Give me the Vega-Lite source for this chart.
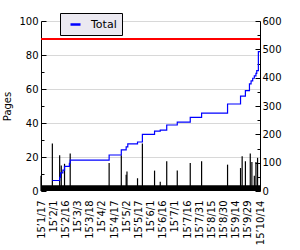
{
  "$schema": "https://vega.github.io/schema/vega-lite/v6.json",
  "width": 219,
  "height": 170,
  "autosize": "none",
  "padding": {"left": 41, "top": 21, "right": 40, "bottom": 59},
  "background": "white",
  "config": {
    "font": "DejaVu Sans",
    "view": {"stroke": null},
    "axis": {"labelFont": "DejaVu Sans", "labelFontSize": 10, "labelColor": "black", "titleFont": "DejaVu Sans", "titleFontSize": 10, "titleFontWeight": "normal", "titleColor": "black", "domainColor": "black", "tickColor": "black"}
  },
  "encoding": {
    "x": {"field": "date", "type": "temporal", "scale": {"domain": [{"year": 2015, "month": 1, "date": 17}, {"year": 2015, "month": 10, "date": 14}]},
      "axis": {"values": [
        {"year": 2015, "month": 1, "date": 17}, {"year": 2015, "month": 2, "date": 1}, {"year": 2015, "month": 2, "date": 16},
        {"year": 2015, "month": 3, "date": 3}, {"year": 2015, "month": 3, "date": 18}, {"year": 2015, "month": 4, "date": 2},
        {"year": 2015, "month": 4, "date": 17}, {"year": 2015, "month": 5, "date": 2}, {"year": 2015, "month": 5, "date": 17},
        {"year": 2015, "month": 6, "date": 1}, {"year": 2015, "month": 6, "date": 16}, {"year": 2015, "month": 7, "date": 1},
        {"year": 2015, "month": 7, "date": 16}, {"year": 2015, "month": 7, "date": 31}, {"year": 2015, "month": 8, "date": 15},
        {"year": 2015, "month": 8, "date": 30}, {"year": 2015, "month": 9, "date": 14}, {"year": 2015, "month": 9, "date": 29},
        {"year": 2015, "month": 10, "date": 14}],
        "format": "%y’%-m/%-d", "labelAngle": 270, "labelAlign": "right", "labelBaseline": "middle", "labelPadding": 9,
        "ticks": false, "domain": false, "grid": false, "title": null, "labelOverlap": false, "labelFlush": false}}
  },
  "layer": [
    {
      "encoding": {
        "y": {"field": "pages", "type": "quantitative", "scale": {"domain": [0, 100]},
          "axis": {"title": "Pages", "values": [0, 10, 20, 30, 40, 50, 60, 70, 80, 90, 100],
            "labelExpr": "datum.value % 20 == 0 ? datum.label : ''",
            "tickSize": {"condition": {"test": "datum.value % 20 == 0", "value": -5}, "value": -3},
            "labelPadding": 8, "titlePadding": 6,
            "grid": true, "gridColor": "#d8d8d8",
            "gridOpacity": {"condition": {"test": "datum.value % 20 == 0 && datum.value > 0", "value": 1}, "value": 0}}}
      },
      "layer": [
        {
          "data": {"values": [{"date": "2015/01/17", "end": "2015/10/14", "pages": 0, "high": 3.4}]},
          "mark": {"type": "rect", "color": "black"},
          "encoding": {
            "x2": {"field": "end"},
            "y2": {"field": "high"}
          }
        },
        {
          "data": {"values": [
            {"date": "2015/01/17", "pages": 9},
            {"date": "2015/01/31", "pages": 28},
            {"date": "2015/02/09", "pages": 21},
            {"date": "2015/02/11", "pages": 15},
            {"date": "2015/02/15", "pages": 16},
            {"date": "2015/02/22", "pages": 22},
            {"date": "2015/04/11", "pages": 16.5},
            {"date": "2015/04/26", "pages": 21},
            {"date": "2015/05/02", "pages": 9.5},
            {"date": "2015/05/03", "pages": 11.5},
            {"date": "2015/05/16", "pages": 7.5},
            {"date": "2015/05/22", "pages": 28},
            {"date": "2015/06/06", "pages": 12},
            {"date": "2015/06/13", "pages": 5.5},
            {"date": "2015/06/21", "pages": 17.5},
            {"date": "2015/07/04", "pages": 12},
            {"date": "2015/07/20", "pages": 16.5},
            {"date": "2015/08/03", "pages": 17.5},
            {"date": "2015/09/04", "pages": 15.5},
            {"date": "2015/09/20", "pages": 13.5},
            {"date": "2015/09/22", "pages": 20.5},
            {"date": "2015/09/26", "pages": 17.5},
            {"date": "2015/10/02", "pages": 22},
            {"date": "2015/10/04", "pages": 17},
            {"date": "2015/10/07", "pages": 9},
            {"date": "2015/10/09", "pages": 17},
            {"date": "2015/10/11", "pages": 19.5}
          ]},
          "mark": {"type": "rule", "color": "black", "strokeWidth": 1.2},
          "encoding": {
            "y2": {"datum": 0}
          }
        },
        {
          "data": {"values": [{"pages": 89.4}]},
          "mark": {"type": "rule", "color": "#ff0000", "strokeWidth": 2},
          "encoding": {
            "x": null
          }
        }
      ]
    },
    {
      "data": {"values": [
        {"date": "2015/01/31", "total": 37},
        {"date": "2015/02/09", "total": 48},
        {"date": "2015/02/10", "total": 64},
        {"date": "2015/02/13", "total": 74},
        {"date": "2015/02/15", "total": 87},
        {"date": "2015/02/21", "total": 98},
        {"date": "2015/02/22", "total": 109},
        {"date": "2015/04/11", "total": 127},
        {"date": "2015/04/26", "total": 145},
        {"date": "2015/05/02", "total": 156},
        {"date": "2015/05/04", "total": 166},
        {"date": "2015/05/16", "total": 173},
        {"date": "2015/05/22", "total": 200},
        {"date": "2015/06/06", "total": 211},
        {"date": "2015/06/13", "total": 215},
        {"date": "2015/06/21", "total": 233},
        {"date": "2015/07/04", "total": 243},
        {"date": "2015/07/20", "total": 260},
        {"date": "2015/08/03", "total": 275},
        {"date": "2015/09/04", "total": 307},
        {"date": "2015/09/20", "total": 335},
        {"date": "2015/09/26", "total": 354},
        {"date": "2015/10/01", "total": 378},
        {"date": "2015/10/03", "total": 389},
        {"date": "2015/10/05", "total": 398},
        {"date": "2015/10/07", "total": 406},
        {"date": "2015/10/09", "total": 415},
        {"date": "2015/10/10", "total": 425},
        {"date": "2015/10/12", "total": 492},
        {"date": "2015/10/14", "total": 492}
      ]},
      "mark": {"type": "line", "interpolate": "step-after", "strokeWidth": 1.2},
      "encoding": {
        "y": {"field": "total", "type": "quantitative", "scale": {"domain": [0, 600]},
          "axis": {"orient": "right", "title": null, "values": [0, 50, 100, 150, 200, 250, 300, 350, 400, 450, 500, 550, 600],
            "labelExpr": "datum.value % 100 == 0 ? datum.label : ''",
            "tickSize": {"condition": {"test": "datum.value % 100 == 0", "value": -5}, "value": -3},
            "labelPadding": 7, "grid": false}},
        "color": {"datum": "Total", "type": "nominal", "scale": {"range": ["#0000ff"]},
          "legend": {"orient": "none", "legendX": 19, "legendY": -8, "title": null, "padding": 5,
            "fillColor": "#ebe9f1", "strokeColor": "black", "symbolType": "stroke", "symbolStrokeWidth": 2.5,
            "symbolSize": 100, "symbolOffset": 4, "labelOffset": 9, "labelFontSize": 11, "labelFont": "DejaVu Sans", "labelColor": "black"}}
      }
    }
  ],
  "resolve": {"scale": {"y": "independent"}}
}
